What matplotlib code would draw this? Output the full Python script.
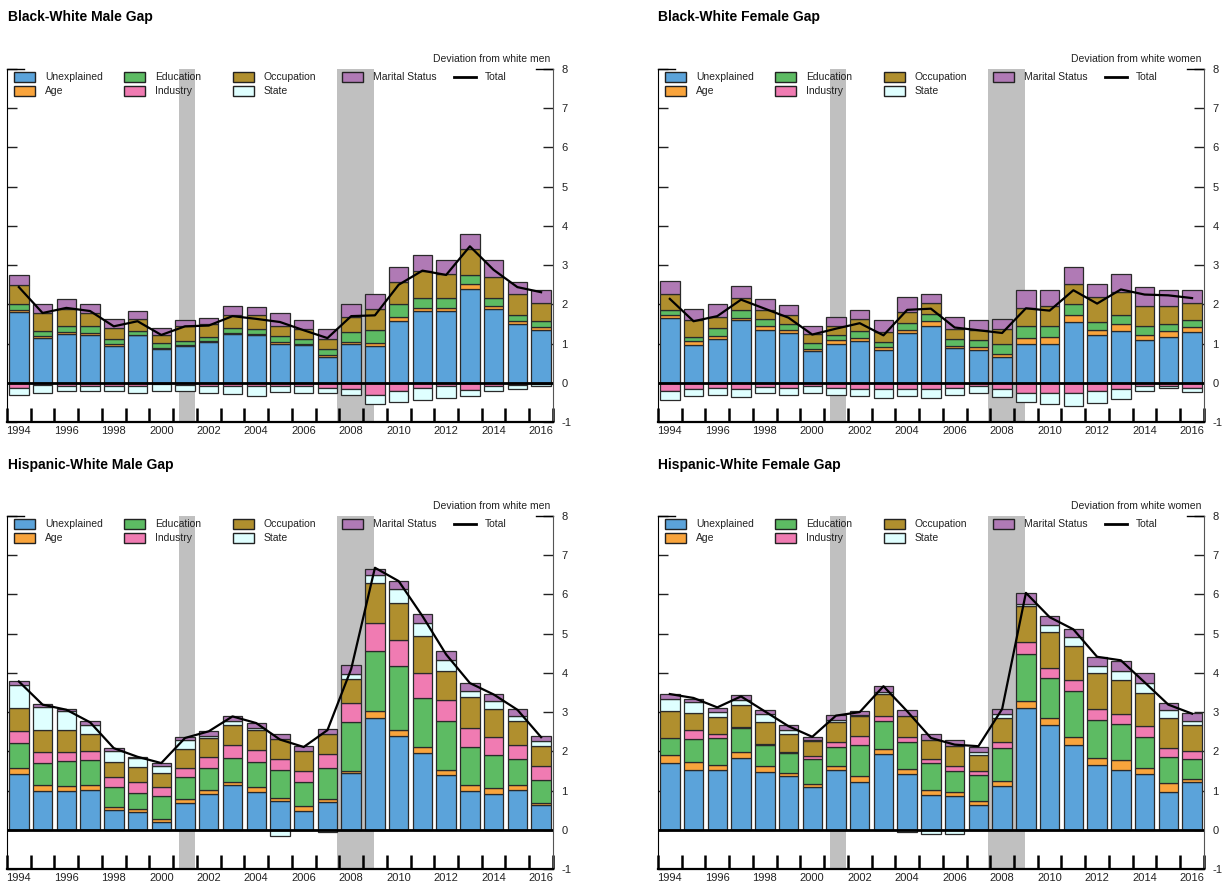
import numpy as np
import matplotlib
matplotlib.use("Agg")
import matplotlib.pyplot as plt
from matplotlib.patches import Rectangle

plt.rcParams['font.family'] = ['Liberation Sans', 'DejaVu Sans']
plt.rcParams['axes.unicode_minus'] = False

years = list(range(1994, 2017))
year_labels = list(range(1994, 2017, 2))
recessions = [(2000.75, 2001.42), (2007.42, 2008.96)]

components = ["Unexplained", "Age", "Education", "Industry", "Occupation", "State", "Marital Status"]
colors = ["#5BA3DA", "#F9A43C", "#5DBB63", "#F07BB2", "#B08F2E", "#DFFFFF", "#B07AB5"]

# Black-White male gap (percent)
bwm_unexpl = [1.80, 1.15, 1.25, 1.23, 0.95, 1.21, 0.87, 0.95, 1.04, 1.25, 1.21, 1.00, 0.97, 0.66, 1.00, 0.93, 1.57, 1.83, 1.83, 2.40, 1.89, 1.49, 1.34]
bwm_age = [0.06, 0.04, 0.04, 0.04, 0.03, 0.02, 0.02, 0.02, 0.02, 0.03, 0.03, 0.04, 0.03, 0.06, 0.03, 0.08, 0.11, 0.08, 0.08, 0.13, 0.06, 0.08, 0.08]
bwm_educ = [0.14, 0.12, 0.17, 0.17, 0.14, 0.09, 0.12, 0.09, 0.12, 0.12, 0.14, 0.15, 0.12, 0.15, 0.26, 0.33, 0.34, 0.26, 0.26, 0.23, 0.22, 0.15, 0.15]
bwm_indus = [-0.13, -0.05, -0.09, -0.07, -0.08, -0.09, -0.04, -0.05, -0.08, -0.07, -0.09, -0.07, -0.09, -0.13, -0.15, -0.30, -0.21, -0.13, -0.09, -0.18, -0.07, -0.05, -0.03]
bwm_occup = [0.50, 0.47, 0.43, 0.34, 0.28, 0.31, 0.20, 0.38, 0.31, 0.34, 0.34, 0.27, 0.26, 0.25, 0.40, 0.55, 0.55, 0.68, 0.61, 0.64, 0.54, 0.54, 0.46]
bwm_state = [-0.17, -0.21, -0.13, -0.13, -0.12, -0.18, -0.16, -0.15, -0.18, -0.21, -0.25, -0.17, -0.17, -0.13, -0.15, -0.25, -0.28, -0.30, -0.29, -0.16, -0.13, -0.10, -0.05]
bwm_marital = [0.26, 0.24, 0.24, 0.24, 0.23, 0.19, 0.19, 0.17, 0.17, 0.21, 0.21, 0.32, 0.23, 0.26, 0.33, 0.38, 0.38, 0.42, 0.34, 0.40, 0.41, 0.31, 0.34]
bwm_total = [2.44, 1.78, 1.91, 1.83, 1.44, 1.57, 1.22, 1.44, 1.46, 1.70, 1.63, 1.55, 1.34, 1.14, 1.70, 1.72, 2.50, 2.86, 2.75, 3.48, 2.88, 2.44, 2.31]

# Black-White female gap
bwf_unexpl = [1.66, 0.97, 1.12, 1.59, 1.35, 1.27, 0.81, 1.00, 1.06, 0.84, 1.27, 1.46, 0.89, 0.84, 0.66, 1.00, 1.00, 1.55, 1.21, 1.32, 1.10, 1.17, 1.29]
bwf_age = [0.08, 0.09, 0.08, 0.07, 0.11, 0.08, 0.06, 0.08, 0.09, 0.07, 0.08, 0.11, 0.06, 0.07, 0.08, 0.14, 0.17, 0.17, 0.14, 0.19, 0.13, 0.15, 0.13]
bwf_educ = [0.12, 0.12, 0.20, 0.19, 0.16, 0.14, 0.14, 0.13, 0.17, 0.13, 0.17, 0.19, 0.17, 0.19, 0.26, 0.30, 0.29, 0.30, 0.20, 0.23, 0.23, 0.17, 0.17]
bwf_indus = [-0.20, -0.15, -0.13, -0.15, -0.11, -0.13, -0.09, -0.13, -0.15, -0.15, -0.15, -0.15, -0.13, -0.09, -0.15, -0.26, -0.26, -0.26, -0.22, -0.15, -0.09, -0.07, -0.13]
bwf_occup = [0.40, 0.41, 0.29, 0.32, 0.24, 0.25, 0.24, 0.25, 0.30, 0.25, 0.28, 0.28, 0.26, 0.24, 0.38, 0.47, 0.51, 0.51, 0.64, 0.57, 0.49, 0.46, 0.44]
bwf_state = [-0.25, -0.19, -0.17, -0.22, -0.15, -0.18, -0.17, -0.17, -0.19, -0.23, -0.19, -0.23, -0.17, -0.17, -0.22, -0.23, -0.29, -0.34, -0.29, -0.26, -0.11, -0.06, -0.11]
bwf_marital = [0.33, 0.30, 0.33, 0.30, 0.27, 0.25, 0.21, 0.22, 0.23, 0.30, 0.39, 0.23, 0.31, 0.27, 0.25, 0.46, 0.40, 0.42, 0.34, 0.47, 0.49, 0.41, 0.34]
bwf_total = [2.14, 1.57, 1.70, 2.12, 1.89, 1.66, 1.23, 1.38, 1.52, 1.21, 1.86, 1.89, 1.41, 1.34, 1.27, 1.90, 1.84, 2.36, 2.02, 2.38, 2.25, 2.23, 2.16]

# Hispanic-White male gap
hwm_unexpl = [1.42, 0.98, 0.98, 1.02, 0.51, 0.45, 0.20, 0.68, 0.91, 1.13, 0.95, 0.74, 0.47, 0.70, 1.45, 2.85, 2.38, 1.96, 1.40, 0.98, 0.91, 1.02, 0.62]
hwm_age = [0.15, 0.15, 0.13, 0.12, 0.06, 0.08, 0.07, 0.11, 0.11, 0.10, 0.13, 0.07, 0.13, 0.08, 0.06, 0.17, 0.16, 0.15, 0.13, 0.15, 0.15, 0.11, 0.06]
hwm_educ = [0.64, 0.57, 0.65, 0.63, 0.52, 0.41, 0.58, 0.55, 0.55, 0.60, 0.66, 0.72, 0.62, 0.79, 1.23, 1.55, 1.63, 1.25, 1.25, 0.98, 0.85, 0.67, 0.60]
hwm_indus = [0.30, 0.27, 0.22, 0.23, 0.25, 0.28, 0.24, 0.23, 0.28, 0.34, 0.29, 0.27, 0.29, 0.36, 0.49, 0.71, 0.68, 0.64, 0.52, 0.49, 0.46, 0.36, 0.35]
hwm_occup = [0.60, 0.58, 0.57, 0.43, 0.40, 0.38, 0.36, 0.49, 0.49, 0.51, 0.52, 0.51, 0.49, 0.50, 0.62, 1.02, 0.94, 0.95, 0.76, 0.78, 0.72, 0.62, 0.51]
hwm_state = [0.57, 0.58, 0.47, 0.25, 0.26, 0.23, 0.18, 0.24, 0.04, 0.09, 0.05, -0.17, 0.0, -0.05, 0.12, 0.19, 0.35, 0.33, 0.28, 0.15, 0.19, 0.13, 0.13]
hwm_marital = [0.12, 0.08, 0.07, 0.09, 0.09, 0.03, 0.07, 0.07, 0.13, 0.14, 0.12, 0.14, 0.13, 0.14, 0.22, 0.17, 0.20, 0.21, 0.21, 0.21, 0.19, 0.18, 0.11]
hwm_total = [3.78, 3.19, 3.06, 2.74, 2.08, 1.86, 1.70, 2.34, 2.51, 2.89, 2.72, 2.30, 2.11, 2.54, 4.10, 6.68, 6.34, 5.45, 4.47, 3.74, 3.45, 3.06, 2.36]

# Hispanic-White female gap
hwf_unexpl = [1.70, 1.53, 1.53, 1.83, 1.47, 1.36, 1.08, 1.53, 1.22, 1.93, 1.42, 0.88, 0.85, 0.62, 1.11, 3.11, 2.66, 2.17, 1.66, 1.53, 1.42, 0.96, 1.22]
hwf_age = [0.20, 0.21, 0.11, 0.14, 0.15, 0.09, 0.09, 0.09, 0.14, 0.13, 0.13, 0.14, 0.11, 0.12, 0.14, 0.17, 0.19, 0.19, 0.17, 0.24, 0.15, 0.23, 0.08]
hwf_educ = [0.44, 0.57, 0.70, 0.63, 0.55, 0.51, 0.63, 0.49, 0.81, 0.71, 0.68, 0.68, 0.55, 0.66, 0.84, 1.21, 1.02, 1.17, 0.96, 0.93, 0.80, 0.67, 0.50]
hwf_indus = [0.0, 0.24, 0.09, 0.02, 0.02, 0.02, 0.09, 0.12, 0.23, 0.14, 0.14, 0.10, 0.12, 0.11, 0.14, 0.30, 0.26, 0.28, 0.29, 0.24, 0.27, 0.23, 0.20]
hwf_occup = [0.70, 0.43, 0.45, 0.55, 0.56, 0.45, 0.38, 0.52, 0.51, 0.54, 0.52, 0.50, 0.50, 0.40, 0.62, 0.91, 0.92, 0.87, 0.92, 0.89, 0.85, 0.76, 0.68]
hwf_state = [0.30, 0.27, 0.12, 0.15, 0.21, 0.12, 0.02, 0.06, 0.02, 0.06, -0.05, -0.11, -0.11, 0.06, 0.09, 0.06, 0.18, 0.23, 0.17, 0.21, 0.24, 0.21, 0.09]
hwf_marital = [0.12, 0.09, 0.11, 0.11, 0.10, 0.13, 0.08, 0.11, 0.11, 0.15, 0.17, 0.14, 0.15, 0.14, 0.15, 0.27, 0.22, 0.21, 0.24, 0.26, 0.27, 0.17, 0.21]
hwf_total = [3.46, 3.36, 3.12, 3.40, 3.02, 2.64, 2.37, 2.91, 3.00, 3.66, 3.02, 2.34, 2.17, 2.13, 3.08, 6.04, 5.42, 5.11, 4.41, 4.32, 3.76, 3.19, 2.96]

# legend slots (column, row) for each component, then Total
legend_slots = [(0, 0), (0, 1), (1, 0), (1, 1), (2, 0), (2, 1), (3, 0)]
legend_cols_px = [7, 117, 226, 335, 447]


def draw_legend(ax):
    bbox = ax.get_position()
    w_px = bbox.width * 1225
    h_px = bbox.height * 884
    for (col, row), label, color in zip(legend_slots, components, colors):
        x0 = legend_cols_px[col]
        yc = 8 + 14 * row
        ax.add_patch(Rectangle((x0 / w_px, 1 - (yc + 5) / h_px), 21 / w_px, 10 / h_px,
                               transform=ax.transAxes, facecolor=color, edgecolor="#222222",
                               lw=1, clip_on=False, zorder=6))
        ax.text((x0 + 31) / w_px, 1 - yc / h_px, label, transform=ax.transAxes,
                ha="left", va="center", fontsize=7.5, color="#222222", zorder=6)
    x0 = legend_cols_px[4]
    ax.plot([x0 / w_px, (x0 + 22) / w_px], [1 - 8 / h_px] * 2, color="black", lw=2,
            transform=ax.transAxes, clip_on=False, zorder=6)
    ax.text((x0 + 31) / w_px, 1 - 8 / h_px, "Total", transform=ax.transAxes,
            ha="left", va="center", fontsize=7.5, color="#222222", zorder=6)


def draw_panel(ax, series, total, note):
    x = np.array(years)
    pos_base = np.zeros(len(years))
    neg_base = np.zeros(len(years))

    for start, end in recessions:
        ax.axvspan(start, end, color="#C0C0C0", lw=0, zorder=0)

    for vals, color in zip(series, colors):
        vals = np.array(vals)
        up = vals > 0
        down = vals < 0
        ax.bar(x[up], vals[up], bottom=pos_base[up], width=0.82, color=color,
               edgecolor="#2a2a2a", linewidth=0.9, zorder=2)
        ax.bar(x[down], vals[down], bottom=neg_base[down], width=0.82, color=color,
               edgecolor="#2a2a2a", linewidth=0.9, zorder=2)
        pos_base += np.where(up, vals, 0)
        neg_base += np.where(down, vals, 0)

    ax.axhline(0, color="black", lw=2, zorder=3)
    ax.plot(x, total, color="black", lw=1.6, zorder=4)

    ax.set_xlim(1993.5, 2016.5)
    ax.set_ylim(-1, 8)
    ax.set_yticks(range(-1, 9))
    ax.set_xticks(year_labels)
    ax.set_xticks(np.arange(1993.5, 2017, 1), minor=True)
    ax.tick_params(axis="y", direction="in", left=True, right=True,
                   labelleft=False, labelright=True, length=7, width=1,
                   pad=6, labelsize=8, colors="#222222")
    ax.tick_params(axis="x", which="major", length=0, pad=3, labelsize=8,
                   labelcolor="#222222")
    ax.tick_params(axis="x", which="minor", direction="in", length=10, width=1.8)

    ax.spines["top"].set_visible(False)
    ax.spines["bottom"].set_linewidth(1.6)
    ax.spines["right"].set_color("#555555")
    # small brackets at the top corners
    ax.plot([0, 0.031], [1, 1], color="black", lw=1, transform=ax.transAxes, clip_on=False)
    ax.plot([0.969, 1], [1, 1], color="black", lw=1, transform=ax.transAxes, clip_on=False)

    ax.text(0.995, 1.028, note, transform=ax.transAxes, ha="right", va="center",
            fontsize=7.5, color="#222222")
    draw_legend(ax)


fig = plt.figure(figsize=(12.25, 8.84), dpi=100)

w = 0.4457
h = 0.3993
ax1 = fig.add_axes([0.0057, 0.5226, w, h])
ax2 = fig.add_axes([0.5371, 0.5226, w, h])
ax3 = fig.add_axes([0.0057, 0.0170, w, h])
ax4 = fig.add_axes([0.5371, 0.0170, w, h])

draw_panel(ax1, [bwm_unexpl, bwm_age, bwm_educ, bwm_indus, bwm_occup, bwm_state, bwm_marital],
           bwm_total, "Deviation from white men")
draw_panel(ax2, [bwf_unexpl, bwf_age, bwf_educ, bwf_indus, bwf_occup, bwf_state, bwf_marital],
           bwf_total, "Deviation from white women")
draw_panel(ax3, [hwm_unexpl, hwm_age, hwm_educ, hwm_indus, hwm_occup, hwm_state, hwm_marital],
           hwm_total, "Deviation from white men")
draw_panel(ax4, [hwf_unexpl, hwf_age, hwf_educ, hwf_indus, hwf_occup, hwf_state, hwf_marital],
           hwf_total, "Deviation from white women")

fig.text(0.0065, 0.9808, "Black-White Male Gap", fontsize=10, fontweight="bold", va="center")
fig.text(0.5371, 0.9808, "Black-White Female Gap", fontsize=10, fontweight="bold", va="center")
fig.text(0.0065, 0.474, "Hispanic-White Male Gap", fontsize=10, fontweight="bold", va="center")
fig.text(0.5371, 0.474, "Hispanic-White Female Gap", fontsize=10, fontweight="bold", va="center")

fig.savefig("out.png", dpi=100)
